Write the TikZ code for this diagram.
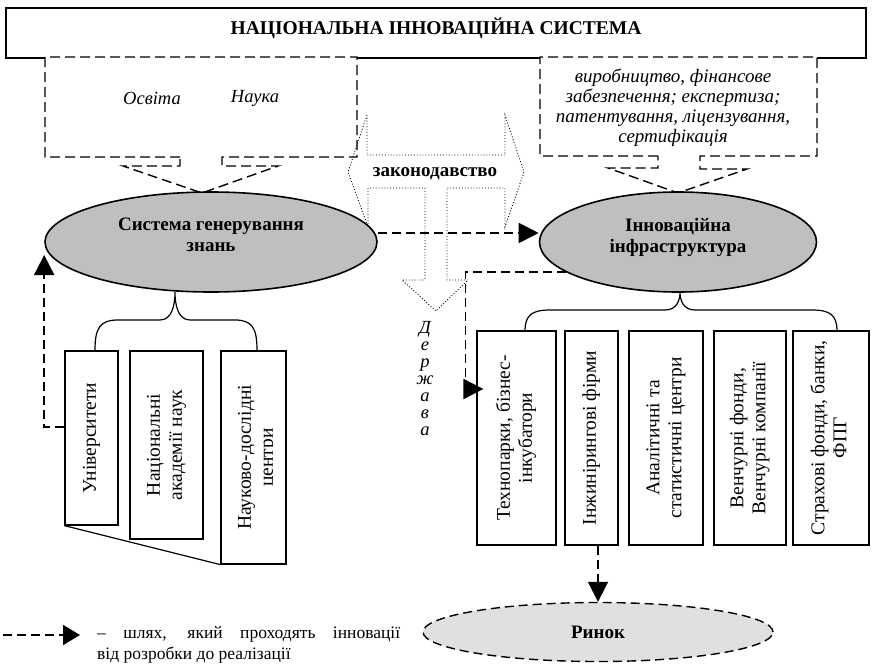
\documentclass[tikz,border=0pt]{standalone}
\usepackage{graphicx}
\usepackage{fontspec}
\setmainfont{Liberation Serif}
\usetikzlibrary{shapes.geometric,arrows.meta}
\newcommand{\vtext}[1]{\rotatebox{90}{\begin{tabular}{@{}c@{}}#1\end{tabular}}}

\begin{document}
\begin{tikzpicture}[x=1pt,y=-1pt,
					box/.style={draw,line width=1.2pt,inner sep=0pt},
					oval/.style={ellipse,draw,line width=1.6pt,fill=black!25,inner sep=0pt,align=center,text depth=14pt,font=\fontsize{19}{21}\selectfont\bfseries},
					callout/.style={line width=1.4pt,dash pattern=on 10pt off 5pt,fill=white},
					route/.style={line width=1.8pt,dash pattern=on 9pt off 5pt,-{Triangle[length=20pt,width=20pt]}},
					law/.style={dotted,line width=0.9pt}]
					\fontsize{19.5}{22}\selectfont
					\useasboundingbox (0,0) rectangle (872,669);
					\node[box,line width=1.5pt,minimum width=860pt,text height=27pt,text depth=23pt,anchor=base,font=\fontsize{19.5}{22}\selectfont\bfseries] (title) at (436,35) {НАЦІОНАЛЬНА ІННОВАЦІЙНА СИСТЕМА};
					\draw[callout] (180,157) -- (45,157) -- (45,57) -- (357,57) -- (357,157) -- (222,157) -- (222,166) -- (278,166) -- (202,193) -- (123,166) -- (180,166) -- cycle;
					\draw[callout] (658,156) -- (540,156) -- (540,57) -- (817,57) -- (817,156) -- (700,156) -- (700,169) -- (747,169) -- (678,193) -- (608,168) -- (658,168) -- cycle;
					\node[font=\fontsize{18.5}{22}\selectfont\itshape] (osvita) at (152,98) {Освіта};
					\node[font=\fontsize{18.5}{22}\selectfont\itshape] (nauka) at (255,98) {Наука};
					\node[font=\fontsize{19}{20}\selectfont\itshape,align=center] (services) at (673,108) {виробництво, фінансове\\забезпечення; експертиза;\\патентування, ліцензування,\\сертифікація};
					\draw[law] (367,115) -- (348,172) -- (368,227) -- (368,188) -- (425,188) -- (425,280) -- (402,280) -- (436,311) -- (468,280) -- (447,280) -- (447,188) -- (505,188) -- (505,227) -- (524,172) -- (505,115) -- (505,155) -- (367,155) -- cycle;
					\node[font=\fontsize{19}{22}\selectfont\bfseries] (law) at (435,174) {законодавство};
					\node[font=\fontsize{18.5}{17}\selectfont\itshape,align=center] (state) at (425,379) {Д\\е\\р\\ж\\а\\в\\а};
					\node[oval,minimum width=332pt,minimum height=100pt] (gen) at (211,242) {Система генерування\\знань};
					\node[oval,minimum width=277pt,minimum height=100pt] (infra) at (678,242) {Інноваційна\\інфраструктура};
					\draw[line width=1.2pt] (95,350) .. controls (95,328) and (100,320) .. (118,320) -- (160,320) .. controls (172,320) and (175,305) .. (175,292) .. controls (175,305) and (178,320) .. (190,320) -- (235,320) .. controls (252,320) and (257,328) .. (257,350);
					\draw[line width=1.2pt] (525,331) .. controls (525,315) and (532,310) .. (550,310) -- (665,310) .. controls (677,310) and (680,300) .. (680,292) .. controls (680,300) and (683,310) .. (695,310) -- (812,310) .. controls (830,310) and (837,315) .. (837,331);
					\node[box,minimum width=53pt,minimum height=174pt] (univ) at (91.5,438) {\vtext{Університети}};
					\node[box,minimum width=73pt,minimum height=188pt] (acad) at (166.5,445) {\vtext{Національні\\академії наук}};
					\node[box,minimum width=65pt,minimum height=213pt] (centr) at (253.5,457.5) {};
					\begin{scope}
						\clip (centr.north west) rectangle ([xshift=-14pt]centr.south east);
						\node[xshift=4pt] (centrtext) at (centr.center) {\vtext{Науково-дослідні\\центри}};
					\end{scope}
					\draw[line width=1.2pt] (univ.south west) -- (centr.south west);
					\node[box,minimum width=79pt,minimum height=214pt] (tech) at (516.5,438) {\vtext{Технопарки, бізнес-\\інкубатори}};
					\node[box,minimum width=53pt,minimum height=214pt] (eng) at (591.5,438) {\vtext{Інжинірингові фірми}};
					\node[box,minimum width=74pt,minimum height=214pt] (anal) at (666,438) {\vtext{Аналітичні та\\статистичні центри}};
					\node[box,minimum width=72pt,minimum height=214pt] (vent) at (750,438) {\vtext{Венчурні фонди,\\Венчурні компанії}};
					\node[box,minimum width=76pt,minimum height=214pt] (strah) at (831,438) {\vtext{Страхові фонди, банки,\\ФПГ}};
					\node[ellipse,draw,fill=black!12,line width=1.4pt,dash pattern=on 9pt off 5pt,minimum width=350pt,minimum height=59pt,font=\fontsize{19}{22}\selectfont\bfseries] (market) at (598,632) {Ринок};
					\coordinate (techin) at ([shift={(7,-49)}]tech.west);
					\coordinate (bend) at ([xshift=-18pt]techin);
					\draw[route] ([yshift=9pt]gen.east) -- ([yshift=9pt]infra.west);
					\draw[route] (infra.195) -| (bend) -- (techin);
					\draw[route] ([yshift=11pt]univ.west) -| ([yshift=-13pt]gen.west);
					\draw[route] (eng.south -| market.north) -- (market.north);
					\coordinate (legfrom) at (3,635);
					\coordinate (legto) at (80,635);
					\draw[route,-{Triangle[length=17pt,width=20pt]}] (legfrom) -- (legto);
					\node[anchor=north west,align=left,inner sep=0pt,font=\fontsize{17.5}{21}\selectfont] (legend) at (97,626) {\makebox[303pt][s]{– шлях, який проходять інновації}\\від розробки до реалізації};
				\end{tikzpicture}
\end{document}
